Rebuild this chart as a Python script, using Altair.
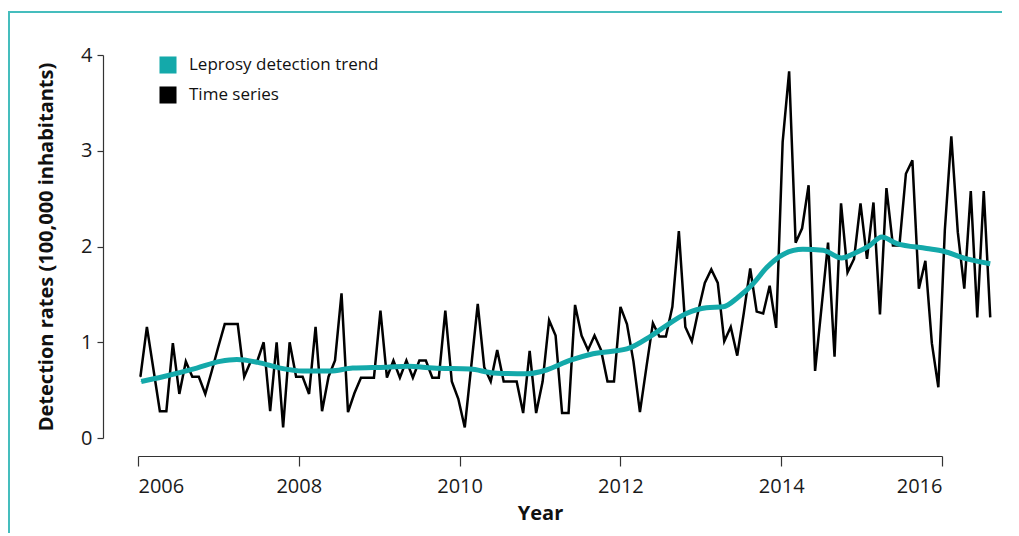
import altair as alt
import numpy as np
import pandas as pd

# ---- data ----
series_values = [
    0.64, 1.16, 0.72, 0.28, 0.28, 0.99, 0.46, 0.80, 0.64, 0.64,
    0.46, 0.70, 0.95, 1.19, 1.19, 1.19, 0.64, 0.80, 0.80, 1.00,
    0.28, 1.00, 0.11, 1.00, 0.64, 0.64, 0.46, 1.16, 0.28, 0.64,
    0.81, 1.51, 0.27, 0.47, 0.63, 0.63, 0.63, 1.33, 0.63, 0.81,
    0.63, 0.81, 0.63, 0.81, 0.81, 0.63, 0.63, 1.33, 0.59, 0.41,
    0.11, 0.75, 1.40, 0.74, 0.59, 0.92, 0.59, 0.59, 0.59, 0.26,
    0.91, 0.26, 0.59, 1.23, 1.07, 0.26, 0.26, 1.39, 1.07, 0.92,
    1.07, 0.92, 0.59, 0.59, 1.37, 1.19, 0.80, 0.27, 0.74, 1.20,
    1.06, 1.06, 1.37, 2.16, 1.16, 1.01, 1.33, 1.62, 1.76, 1.62,
    1.01, 1.16, 0.86, 1.30, 1.77, 1.32, 1.30, 1.59, 1.15, 3.09,
    3.83, 2.04, 2.19, 2.64, 0.70, 1.37, 2.04, 0.85, 2.45, 1.73,
    1.87, 2.45, 1.87, 2.46, 1.29, 2.61, 2.01, 2.01, 2.76, 2.90,
    1.56, 1.85, 0.99, 0.53, 2.17, 3.15, 2.15, 1.56, 2.58, 1.26,
    2.58, 1.26,
]
series_start, series_end = 2006.03, 2016.6

trend_years = [
    2006.04, 2006.31, 2006.73, 2007.02, 2007.23, 2007.49, 2007.77, 2008.05,
    2008.39, 2008.67, 2009.09, 2009.36, 2009.67, 2010.13, 2010.42, 2010.83,
    2011.08, 2011.37, 2011.66, 2012.08, 2012.37, 2012.58, 2012.82, 2013.07,
    2013.28, 2013.45, 2013.65, 2013.82, 2014.03, 2014.27, 2014.52, 2014.75,
    2014.94, 2015.10, 2015.25, 2015.44, 2015.81, 2016.02, 2016.31, 2016.60,
]
trend_values = [
    0.59, 0.64, 0.73, 0.80, 0.82, 0.79, 0.73, 0.70,
    0.70, 0.73, 0.74, 0.75, 0.73, 0.72, 0.68, 0.67,
    0.71, 0.81, 0.88, 0.93, 1.06, 1.18, 1.30, 1.36,
    1.37, 1.46, 1.61, 1.78, 1.92, 1.97, 1.96, 1.88,
    1.94, 2.01, 2.10, 2.03, 1.98, 1.95, 1.87, 1.82,
]

x_ticks = [2006, 2008, 2010, 2012, 2014, 2016]
y_ticks = [0, 1, 2, 3, 4]

LEG_TREND = "Leprosy detection trend"
LEG_TS = "Time series"
TEAL = "#14a9aa"
FRAME = "#45bdbd"
FONT = "Open Sans"

series_years = np.linspace(series_start, series_end, len(series_values))
df_ts = pd.DataFrame({"year": series_years, "rate": series_values, "series": LEG_TS})
df_tr = pd.DataFrame({"year": trend_years, "rate": trend_values, "series": LEG_TREND})
df_leg = pd.concat([df_tr.iloc[[0]], df_ts.iloc[[0]]], ignore_index=True)

W, H = 804, 383
PAD = {"left": 130, "top": 47, "right": 60, "bottom": 95}

x_scale = alt.Scale(domain=[2006, 2016], nice=False, zero=False)
y_scale = alt.Scale(domain=[0, 4], nice=False, zero=False)

x_axis = alt.Axis(
    values=x_ticks, format="d", title="Year", offset=18, grid=False,
    tickSize=10, labelPadding=10, labelFontSize=20, labelColor="#1a1a1a",
    titleFontSize=20, titleFontWeight="bold", titleColor="#111", titlePadding=7,
    domainColor="#333", tickColor="#333", domainWidth=1.2, tickWidth=1.2,
)
y_axis = alt.Axis(
    values=y_ticks, format="d", title="Detection rates (100,000 inhabitants)",
    offset=35, grid=False, tickSize=6, labelPadding=5, labelFontSize=20,
    labelColor="#1a1a1a", titleFontSize=20, titleFontWeight="bold",
    titleColor="#111", titlePadding=24, domainColor="#333", tickColor="#333",
    domainWidth=1.2, tickWidth=1.2,
)

color_scale = alt.Scale(domain=[LEG_TREND, LEG_TS], range=[TEAL, "#000000"])

legend_layer = alt.Chart(df_leg).mark_square(size=1, opacity=1).encode(
    x=alt.X("year:Q", scale=x_scale, axis=x_axis),
    y=alt.Y("rate:Q", scale=y_scale, axis=y_axis),
    fill=alt.Fill(
        "series:N", scale=color_scale,
        legend=alt.Legend(
            title=None, orient="none", legendX=21, legendY=1,
            symbolType="square", symbolSize=290, symbolStrokeWidth=0,
            labelFontSize=17, labelFont=FONT, labelColor="#111",
            labelOffset=12, rowPadding=12, labelLimit=0,
        ),
    ),
)

ts_line = alt.Chart(df_ts).mark_line(color="#000000", strokeWidth=2.5).encode(
    x=alt.X("year:Q", scale=x_scale),
    y=alt.Y("rate:Q", scale=y_scale),
)

trend_line = alt.Chart(df_tr).mark_line(
    color=TEAL, strokeWidth=5, interpolate="monotone"
).encode(
    x=alt.X("year:Q", scale=x_scale),
    y=alt.Y("rate:Q", scale=y_scale),
)

dummy = pd.DataFrame({"a": [0]})
frame_left = alt.Chart(dummy).mark_rule(color=FRAME, strokeWidth=2).encode(
    x=alt.value(-129), y=alt.value(-43), y2=alt.value(H + PAD["bottom"])
)
frame_top = alt.Chart(dummy).mark_rule(color=FRAME, strokeWidth=2).encode(
    x=alt.value(-130), x2=alt.value(W + PAD["right"]), y=alt.value(-43)
)

chart = alt.layer(
    legend_layer, ts_line, trend_line, frame_left, frame_top
).properties(
    width=W, height=H, padding=PAD,
    autosize=alt.AutoSizeParams(type="none"),
).configure(
    font=FONT
).configure_view(
    stroke=None
).configure_axis(
    labelFont=FONT, titleFont=FONT
)

chart.save("out.html", embed_options={"renderer": "svg", "actions": False})
